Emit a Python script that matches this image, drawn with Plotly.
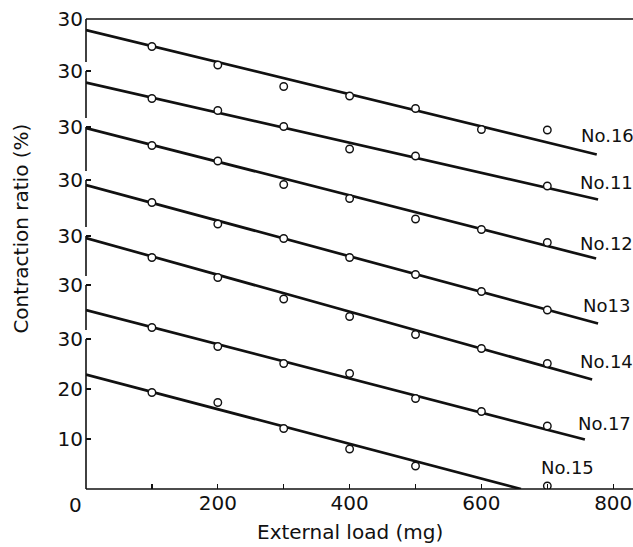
import plotly.graph_objects as go

# External load (mg) at which contraction was measured
loads = [100, 200, 300, 400, 500, 600, 700]

# Series names (top to bottom) and their label texts
series = ["No.16", "No.11", "No.12", "No13", "No.14", "No.17", "No.15"]

# Measured points, read on the displayed (stacked/offset) axis scale
y_no16 = [88.5, 84.8, 80.5, 78.6, 76.1, 71.9, 71.8]
y_no11 = [78.1, 75.7, 72.5, 68.0, 66.6, None, 60.6]
y_no12 = [68.7, 65.6, 60.9, 58.1, 54.0, 51.9, 49.3]
y_no13 = [57.3, 53.0, 50.1, 46.3, 42.9, 39.5, 35.8]
y_no14 = [46.3, 42.3, 38.0, 34.5, 30.9, 28.1, 25.1]
y_no17 = [32.3, 28.5, 25.1, 23.1, 18.1, 15.5, 12.6]
y_no15 = [19.3, 17.3, 12.1, 8.0, 4.6, None, 0.6]
points = [y_no16, y_no11, y_no12, y_no13, y_no14, y_no17, y_no15]

# Fitted regression lines: value at zero load, value at the end, load at the end
line_start = [91.8, 81.3, 72.2, 60.8, 50.2, 35.8, 22.9]
line_end = [66.9, 57.9, 46.1, 33.1, 21.9, 9.9, 0.0]
line_xend = [775, 777, 774, 777, 768, 757, 660]

# y axis ticks (offset axes: each "30" marks one curve's own scale)
ytick_vals = [10, 20, 30, 40.8, 50.6, 61.8, 72.4, 83.6, 94]
ytick_text = ["10", "20", "30", "30", "30", "30", "30", "30", "30"]

# x axis ticks
xtick_vals = [0, 100, 200, 300, 400, 500, 600, 700, 800]
xtick_text = ["", "", "200", "", "400", "", "600", "", "800"]

FONT = "DejaVu Sans"
INK = "#111111"

fig = go.Figure()

for s, ys, y0, y1, xe in zip(series, points, line_start, line_end, line_xend):
    fig.add_trace(go.Scatter(
        x=[0, xe], y=[y0, y1], mode="lines",
        line=dict(color=INK, width=2.7), showlegend=False, hoverinfo="skip"))
for s, ys in zip(series, points):
    fig.add_trace(go.Scatter(
        x=loads, y=ys, mode="markers", name=s,
        marker=dict(symbol="circle", size=7.5, color="white",
                    line=dict(color=INK, width=1.4)),
        showlegend=False))

# Axis frame drawn as lines: broken y axis (one segment per stacked scale),
# bottom axis and top border
seg_tops = ytick_vals[2:]
AX = dict(color=INK, width=1.6)
shapes = [dict(type="line", xref="paper", yref="y", x0=0, x1=0, y0=0,
               y1=seg_tops[0], line=AX)]
for lo, hi in zip(seg_tops[:-1], seg_tops[1:]):
    shapes.append(dict(type="line", xref="paper", yref="y", x0=0, x1=0,
                       y0=lo + 1.8, y1=hi, line=AX))
shapes.append(dict(type="line", xref="paper", yref="paper", x0=0, x1=1.02,
                   y0=1, y1=1, line=AX))
shapes.append(dict(type="line", xref="paper", yref="paper", x0=0, x1=1.02,
                   y0=0, y1=0, line=AX))

annotations = []
# white strip over the right edge of the plot area (no right frame in the original)
annotations.append(dict(x=1, y=0.5, xref="paper", yref="paper", text=" ",
                        showarrow=False, width=8, height=464, bgcolor="white",
                        borderwidth=0, xanchor="center", yanchor="middle"))

# Curve labels
label_pos = [(792, 70.8), (790, 61.4), (790, 49.2), (790, 36.8),
             (790, 25.6), (787, 13.2), (731, 4.4)]
for s, (lx, ly) in zip(series, label_pos):
    annotations.append(dict(x=lx, y=ly, xref="x", yref="y", text=s,
                            showarrow=False, font=dict(family=FONT, size=18, color=INK),
                            xanchor="center", yanchor="middle"))
annotations.append(dict(x=0, y=0, xref="x", yref="y", text="0", showarrow=False,
                        xshift=-11, yshift=-16, xanchor="center", yanchor="middle",
                        font=dict(family=FONT, size=20, color=INK)))
annotations.append(dict(x=-0.118, y=0.555, xref="paper", yref="paper",
                        text="Contraction ratio (%)", textangle=-90, showarrow=False,
                        xanchor="center", yanchor="middle",
                        font=dict(family=FONT, size=20, color=INK)))
annotations.append(dict(x=0.4826, y=-0.0915, xref="paper", yref="paper",
                        text="External load (mg)", showarrow=False,
                        xanchor="center", yanchor="middle",
                        font=dict(family=FONT, size=20, color=INK)))

fig.update_layout(
    width=633, height=547,
    margin=dict(l=86, r=0, t=19, b=58),
    paper_bgcolor="white", plot_bgcolor="rgba(0,0,0,0)",
    shapes=shapes, annotations=annotations,
    xaxis=dict(range=[0, 830], tickvals=xtick_vals, ticktext=xtick_text,
               ticks="inside", ticklen=5, tickwidth=1.3, tickcolor=INK,
               showline=False, mirror=False,
               showgrid=False, zeroline=False, automargin=False,
               tickfont=dict(family=FONT, size=20, color=INK)),
    yaxis=dict(range=[0, 94], tickvals=ytick_vals, ticktext=ytick_text,
               ticks="inside", ticklen=5, tickwidth=1.3, tickcolor=INK,
               showline=False, mirror=False, showgrid=False, zeroline=False,
               automargin=False, ticklabelstandoff=2,
               tickfont=dict(family=FONT, size=20, color=INK)),
)

fig.write_html("out.html", config={"staticPlot": True, "displayModeBar": False})
